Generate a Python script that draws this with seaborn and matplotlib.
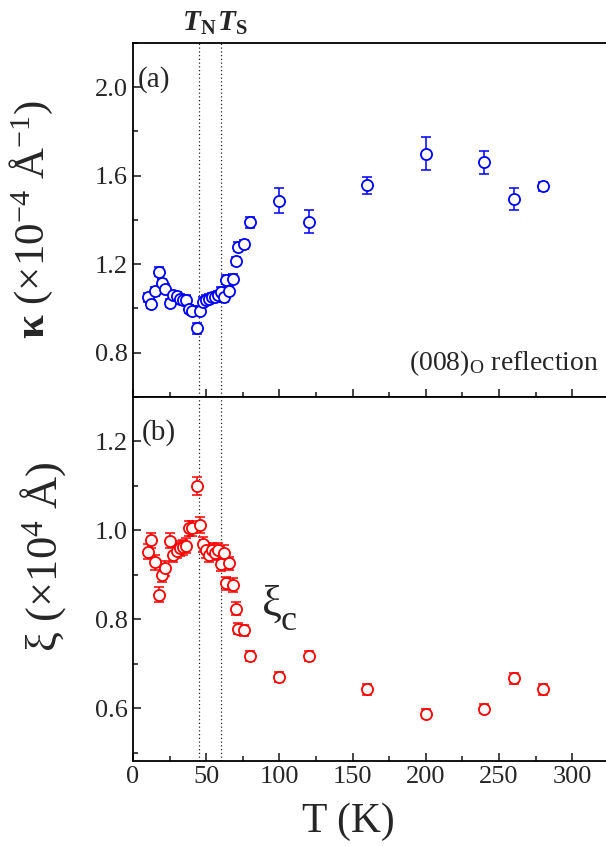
import numpy as np
import pandas as pd
import seaborn as sns
import matplotlib
matplotlib.use("Agg")
import matplotlib.pyplot as plt
from matplotlib.ticker import MultipleLocator, FormatStrFormatter

# ---- data ----
temp = [10, 12, 15, 17.5, 19.5, 22, 25.5, 27.5, 30, 32, 34, 36, 38, 40.5, 44, 45.5,
        48, 50, 52, 54, 56, 58, 60, 62, 63.5, 65.5, 68, 70, 72, 76, 80,
        100, 120, 160, 200, 240, 260, 280]
kappa = [1.05, 1.02, 1.077, 1.167, 1.115, 1.09, 1.025, 1.06, 1.055, 1.045, 1.04, 1.04,
         0.998, 0.99, 0.911, 0.99, 1.03, 1.04, 1.045, 1.05, 1.05, 1.06, 1.075, 1.05,
         1.13, 1.08, 1.135, 1.215, 1.28, 1.29, 1.39, 1.488, 1.393, 1.556, 1.70, 1.66,
         1.495, 1.552]
kappa_err = [0.02, 0.02, 0.02, 0.02, 0.02, 0.02, 0.02, 0.02, 0.02, 0.02, 0.02, 0.02,
             0.02, 0.02, 0.024, 0.02, 0.02, 0.02, 0.02, 0.02, 0.02, 0.02, 0.02, 0.02,
             0.02, 0.02, 0.02, 0.02, 0.02, 0.02, 0.025, 0.058, 0.05, 0.039, 0.076, 0.05,
             0.05, 0.02]
xi = [0.952, 0.978, 0.928, 0.855, 0.90, 0.915, 0.977, 0.945, 0.954, 0.96, 0.962, 0.965,
      1.005, 1.005, 1.10, 1.012, 0.969, 0.955, 0.945, 0.955, 0.95, 0.955, 0.925, 0.95,
      0.881, 0.926, 0.877, 0.824, 0.779, 0.775, 0.717, 0.670, 0.717, 0.642, 0.587,
      0.599, 0.667, 0.642]
xi_err = [0.017, 0.017, 0.017, 0.017, 0.017, 0.017, 0.017, 0.017, 0.017, 0.017, 0.017,
          0.017, 0.017, 0.017, 0.021, 0.017, 0.017, 0.017, 0.017, 0.017, 0.017, 0.017,
          0.017, 0.017, 0.015, 0.015, 0.015, 0.015, 0.012, 0.012, 0.012, 0.012, 0.012,
          0.012, 0.01, 0.01, 0.012, 0.012]
T_N, T_S = 45, 60

df = pd.DataFrame({"T": temp, "kappa": kappa, "kappa_err": kappa_err,
                   "xi": xi, "xi_err": xi_err})

# ---- style ----
sns.set_theme(style="ticks")
plt.rcParams['font.family'] = ['Liberation Serif', 'DejaVu Serif']
plt.rcParams['mathtext.fontset'] = 'custom'
plt.rcParams['mathtext.rm'] = 'Liberation Serif'
plt.rcParams['mathtext.it'] = 'Liberation Serif:italic'
plt.rcParams['mathtext.bf'] = 'Liberation Serif:bold'
plt.rcParams['mathtext.bfit'] = 'Liberation Serif:bold:italic'

W, H = 606, 846
fig = plt.figure(figsize=(W / 100, H / 100), dpi=100)
left, right = 133 / W, 1.0
ax1 = fig.add_axes([left, 1 - 397 / H, right - left, (397 - 43) / H])
ax2 = fig.add_axes([left, 1 - 761 / H, right - left, (761 - 397) / H])


def draw(ax, col, err, color):
    ax.errorbar(df["T"], df[col], yerr=df[err], fmt="none", ecolor=color,
                elinewidth=1.1, capsize=3.5, capthick=1.1, zorder=3)
    sns.scatterplot(data=df, x="T", y=col, ax=ax, marker="o", s=64,
                    facecolor="white", edgecolor=color, linewidth=1.3, zorder=4)
    for t in (T_N, T_S):
        ax.axvline(t, color="#222222", ls=(0, (1, 2)), lw=0.9, zorder=1)
    ax.set_xlim(0, 323)
    ax.xaxis.set_major_locator(MultipleLocator(50))
    ax.xaxis.set_minor_locator(MultipleLocator(25))
    ax.tick_params(which="both", direction="in", labelsize=19, width=1.2,
                   top=False, right=False)
    ax.tick_params(which="major", length=6)
    ax.tick_params(which="minor", length=3.5)
    for s in ax.spines.values():
        s.set_linewidth(1.3)
        s.set_color("black")
    ax.spines["right"].set_visible(False)


draw(ax1, "kappa", "kappa_err", "#0000ff")
draw(ax2, "xi", "xi_err", "#ff0000")

ax1.set_ylim(0.6, 2.2)
ax1.yaxis.set_major_locator(MultipleLocator(0.4))
ax1.yaxis.set_minor_locator(MultipleLocator(0.2))
ax1.yaxis.set_major_formatter(FormatStrFormatter("%.1f"))
ax1.set_xticklabels([])
ax1.set_xlabel("")
ax1.set_ylabel(r"$\mathbf{\kappa}$ (×10$^{-4}$ Å$^{-1}$)", fontsize=31)
ax1.yaxis.set_label_coords((55 - 133) / (606 - 133), 0.5)

ax2.set_ylim(0.481, 1.3)
ax2.yaxis.set_major_locator(MultipleLocator(0.2))
ax2.yaxis.set_minor_locator(MultipleLocator(0.1))
ax2.yaxis.set_major_formatter(FormatStrFormatter("%.1f"))
ax2.set_xlabel("T (K)", fontsize=30)
ax2.xaxis.set_label_coords((348 - 133) / (606 - 133), -(802 - 761) / 364)
ax2.set_ylabel(r"ξ (×10$^{4}$ Å)", fontsize=32)
ax2.yaxis.set_label_coords((68 - 133) / (606 - 133), 0.56)

ax1.text(0.01, 0.935, "(a)", transform=ax1.transAxes, fontsize=21, va="top")
ax2.text(0.018, 1 - 22 / 364, "(b)", transform=ax2.transAxes, fontsize=21, va="top")
ax1.text(0.985, 0.055, r"(008)$_{\mathrm{O}}$ reflection", transform=ax1.transAxes,
         fontsize=20, ha="right", va="bottom")
ax2.text(88, 0.808, "ξ", fontsize=32, ha="left", va="baseline")
ax2.text(101, 0.775, "c", fontsize=26, ha="left", va="baseline")

ax1.text(33.5, 2.228, r"$\mathbfit{T}_{\mathbf{N}}$", fontsize=21, ha="left", va="bottom")
ax1.text(57.5, 2.228, r"$\mathbfit{T}_{\mathbf{S}}$", fontsize=21, ha="left", va="bottom")

fig.savefig("out.png", dpi=100)
